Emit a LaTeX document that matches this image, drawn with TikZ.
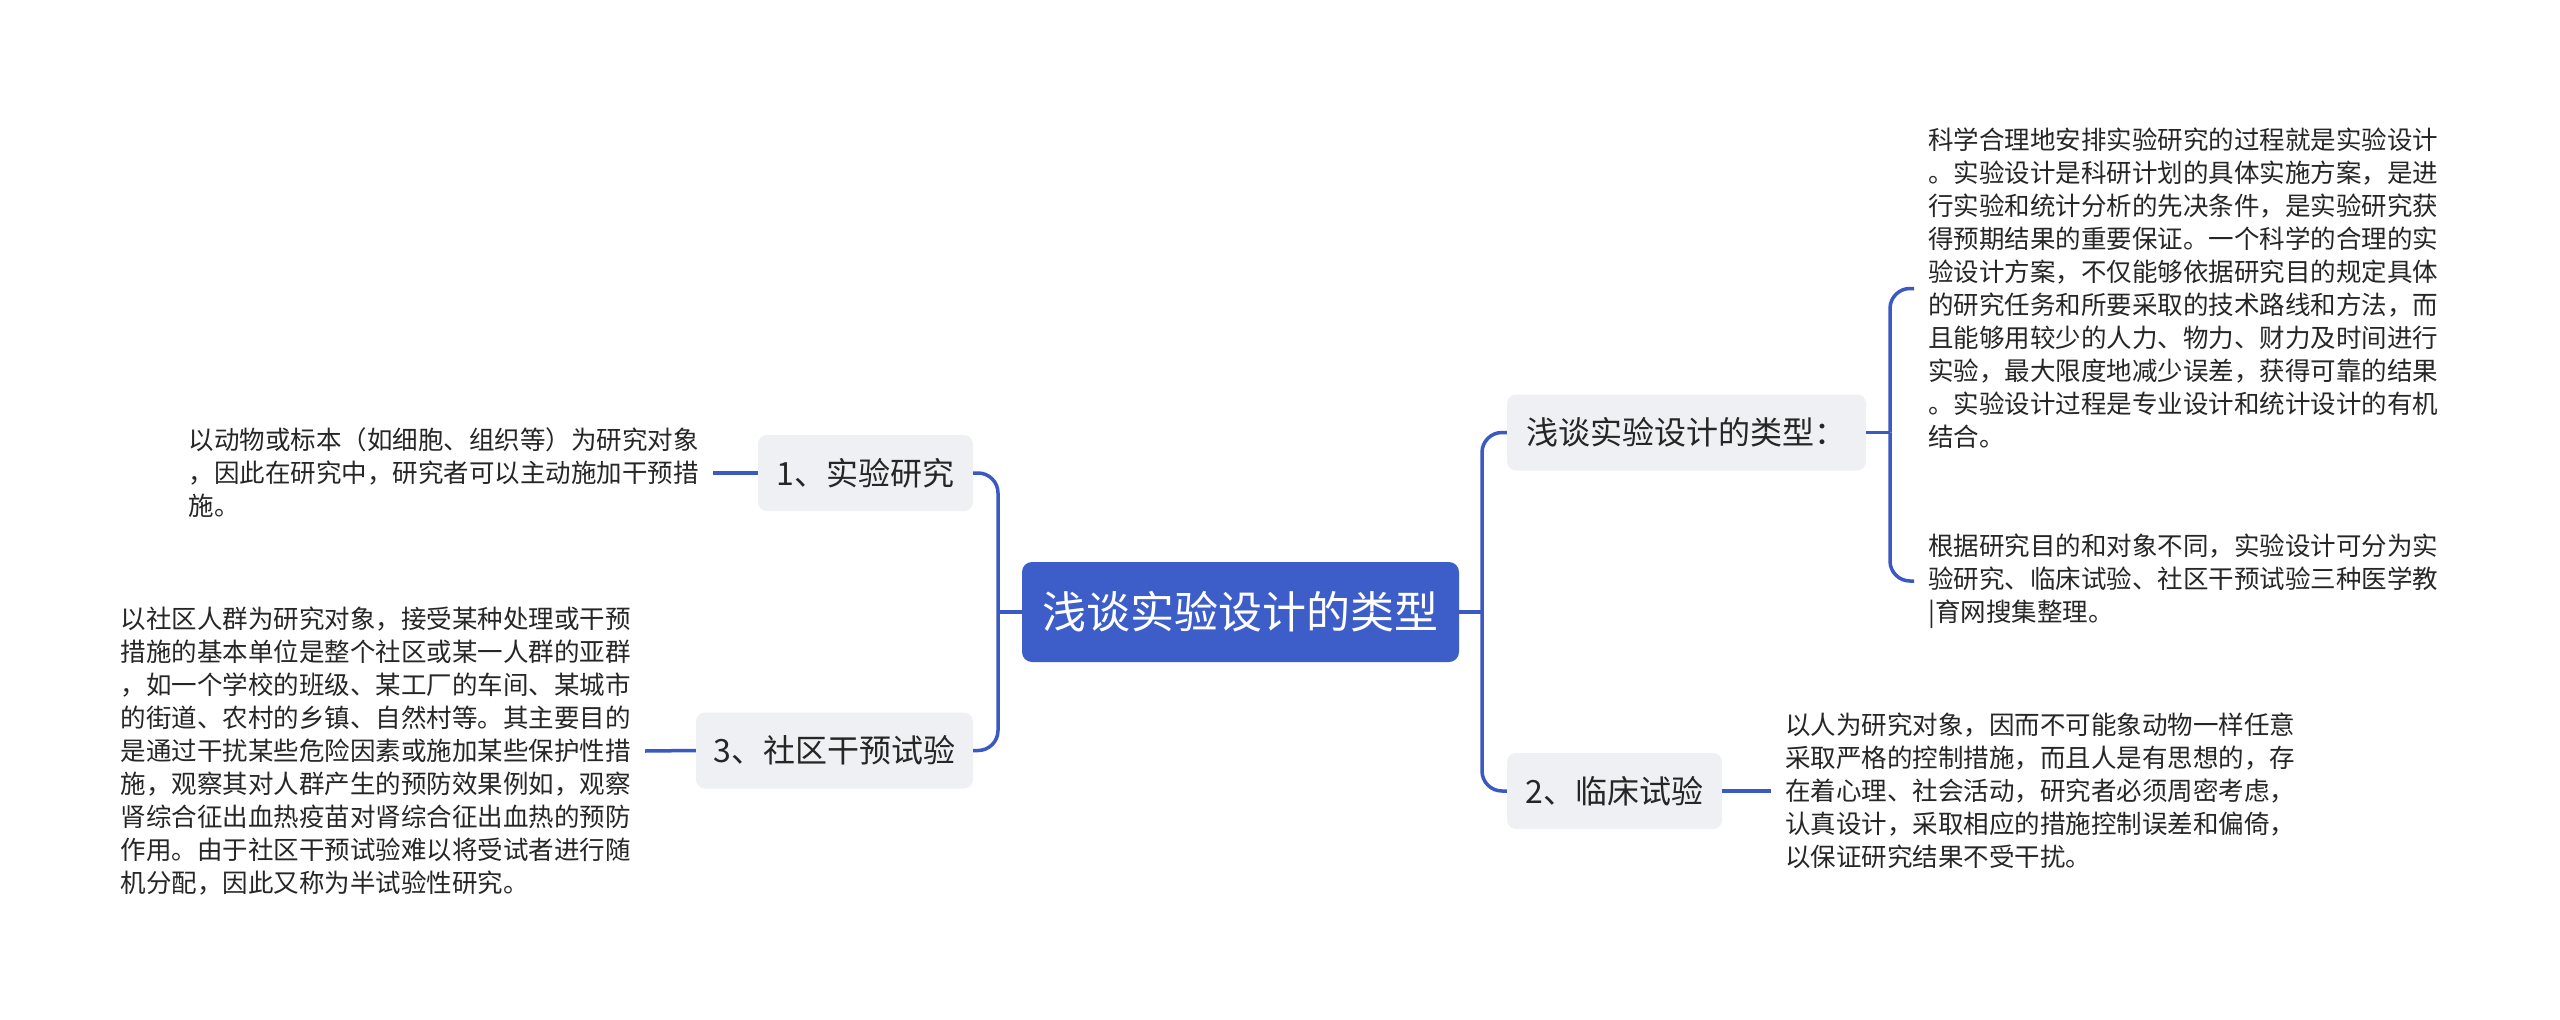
\documentclass[tikz,border=0pt]{standalone}
\usepackage{fontspec}
\setmainfont{Noto Sans CJK SC}
\definecolor{mainblue}{HTML}{3D5EC8}
\definecolor{linec}{HTML}{3B59C2}
\definecolor{nodegray}{HTML}{EEF0F4}
\definecolor{txt}{HTML}{262626}
\tikzset{
 conn/.style={draw=linec, line width=3.5pt},
 elbow/.style={conn, rounded corners=20pt},
 topic/.style={fill=nodegray, rounded corners=9pt, text=txt, font=\fontsize{32}{38}\selectfont, inner sep=0pt, minimum height=76pt},
 rootnode/.style={fill=mainblue, rounded corners=10pt, text=white, font=\fontsize{44}{52}\selectfont, inner sep=0pt, minimum width=437pt, minimum height=100pt},
 desc/.style={align=left, text=txt, font=\fontsize{25.5}{33}\selectfont, inner xsep=14pt, inner ysep=0pt}
}
\begin{document}
\begin{tikzpicture}[x=1pt,y=-1pt]
\useasboundingbox (0,0) rectangle (2560,1020);
\fill[white] (0,0) rectangle (2560,1020);
% topic nodes
\node[rootnode] (root) at (1240.5,612) {浅谈实验设计的类型};
\node[topic, minimum width=359pt] (t) at (1686.5,432.5) {浅谈实验设计的类型：};
\node[topic, minimum width=215pt] (c2) at (1614.5,791) {2、临床试验};
\node[topic, minimum width=215pt] (n1) at (865.5,473) {1、实验研究};
\node[topic, minimum width=277pt] (n3) at (834.5,750.5) {3、社区干预试验};
% descriptions
\node[desc, anchor=west] (d1) at (1914,288.5) {科学合理地安排实验研究的过程就是实验设计\\
。实验设计是科研计划的具体实施方案，是进\\
行实验和统计分析的先决条件，是实验研究获\\
得预期结果的重要保证。一个科学的合理的实\\
验设计方案，不仅能够依据研究目的规定具体\\
的研究任务和所要采取的技术路线和方法，而\\
且能够用较少的人力、物力、财力及时间进行\\
实验，最大限度地减少误差，获得可靠的结果\\
。实验设计过程是专业设计和统计设计的有机\\
结合。};
\node[desc, anchor=west] (d2) at (1914,581) {根据研究目的和对象不同，实验设计可分为实\\
验研究、临床试验、社区干预试验三种医学教\\
|育网搜集整理。};
\node[desc, anchor=west] (d3) at (1771,791) {以人为研究对象，因而不可能象动物一样任意\\
采取严格的控制措施，而且人是有思想的，存\\
在着心理、社会活动，研究者必须周密考虑，\\
认真设计，采取相应的措施控制误差和偏倚，\\
以保证研究结果不受干扰。};
\node[desc, anchor=east] (l1) at (713,473) {以动物或标本（如细胞、组织等）为研究对象\\
，因此在研究中，研究者可以主动施加干预措\\
施。};
\node[desc, anchor=east] (l3) at (645,751) {以社区人群为研究对象，接受某种处理或干预\\
措施的基本单位是整个社区或某一人群的亚群\\
，如一个学校的班级、某工厂的车间、某城市\\
的街道、农村的乡镇、自然村等。其主要目的\\
是通过干扰某些危险因素或施加某些保护性措\\
施，观察其对人群产生的预防效果例如，观察\\
肾综合征出血热疫苗对肾综合征出血热的预防\\
作用。由于社区干预试验难以将受试者进行随\\
机分配，因此又称为半试验性研究。};
% junctions
\coordinate (jL) at (998,612);
\coordinate (jR) at (1482,612);
\coordinate (jT) at (1890,432.5);
% connectors
\draw[conn] (root.west) -- (jL);
\draw[elbow] (jL) |- (n1.east);
\draw[elbow] (jL) |- (n3.east);
\draw[conn] (root.east) -- (jR);
\draw[elbow] (jR) |- (t.west);
\draw[elbow] (jR) |- (c2.west);
\draw[conn] (t.east) -- (jT);
\draw[elbow] (jT) |- (d1.west);
\draw[elbow] (jT) |- (d2.west);
\draw[conn] (c2.east) -- (d3.west);
\draw[conn] (l1.east) -- (n1.west);
\draw[conn] (l3.east) -- (n3.west);
\end{tikzpicture}
\end{document}
